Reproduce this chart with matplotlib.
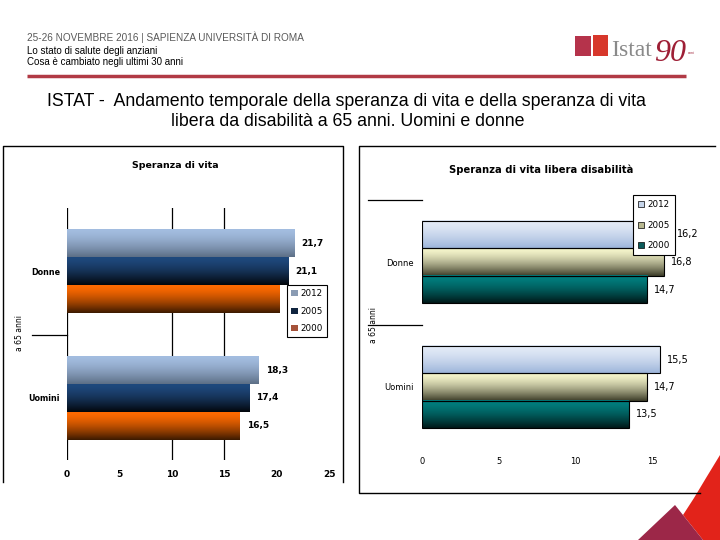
import numpy as np
import matplotlib
matplotlib.use("Agg")
import matplotlib.pyplot as plt
from matplotlib.colors import to_rgb
from matplotlib.patches import Patch, Polygon, Rectangle
import matplotlib.transforms as mtransforms

W, H = 720, 540

groups = ["Donne", "Uomini"]
years = ["2012", "2005", "2000"]

# speranza di vita a 65 anni
sv_2012 = [21.7, 18.3]
sv_2005 = [21.1, 17.4]
sv_2000 = [20.3, 16.5]
sv_labels = [["21,7", "18,3"], ["21,1", "17,4"], ["20,3", "16,5"]]

# speranza di vita libera da disabilita a 65 anni
svl_2012 = [16.2, 15.5]
svl_2005 = [15.8, 14.7]
svl_2000 = [14.7, 13.5]
svl_labels = [["16,2", "15,5"], ["16,8", "14,7"], ["14,7", "13,5"]]

left_ticks = [0, 5, 10, 15, 20, 25]
left_grid = [0, 10, 15]
right_ticks = [0, 5, 10, 15]

# (top colour, bottom colour) of the bar gradients
left_colors = [("#a3bde0", "#5d6f86"), ("#1f497d", "#02060c"), ("#ff6a00", "#3c1a00")]
left_legend = ["#8a9bb3", "#0f243e", "#a5523a"]
right_colors = [("#e3ebf7", "#9db5da"), ("#f6f6cc", "#3c3c28"), ("#008080", "#001818")]
right_legend = ["#c6d5ea", "#b8b890", "#0a5a5a"]

CHART_FONT = "DejaVu Sans"


def px_rect(x0, y0, x1, y1):
    return [x0 / W, 1 - y1 / H, (x1 - x0) / W, (y1 - y0) / H]


def gradient_bar(ax, y, value, h, top, bottom, z=2):
    t = np.linspace(0, 1, 64)[:, None] ** 1.5
    c0 = np.array(to_rgb(top))
    c1 = np.array(to_rgb(bottom))
    img = (c0 * (1 - t) + c1 * t)[:, None, :]
    ax.imshow(img, extent=(0, value, y + h / 2, y - h / 2), aspect="auto",
              interpolation="bilinear", zorder=z)


def draw_chart(ax, series, labels, colors, h, edged, label_kw):
    for i, vals in enumerate(series):
        for j, v in enumerate(vals):
            y = j + (i - 1) * h
            gradient_bar(ax, y, v, h, *colors[i])
            if edged:
                ax.barh(y, v, height=h, facecolor="none", edgecolor="black",
                        linewidth=0.8, zorder=3)
            ax.annotate(labels[i][j], (v, y), xytext=(5, 0), textcoords="offset points",
                        va="center", ha="left", family=CHART_FONT, zorder=4, **label_kw)
    for s in ax.spines.values():
        s.set_visible(False)
    ax.set_facecolor("none")


fig = plt.figure(figsize=(7.2, 5.4), dpi=100)

# background layer in pixel coordinates
bg = fig.add_axes([0, 0, 1, 1], zorder=0)
bg.set_xlim(0, W)
bg.set_ylim(H, 0)
bg.axis("off")

bg.text(27, 37, "25-26 NOVEMBRE 2016 | SAPIENZA UNIVERSITÀ DI ROMA", fontsize=7.2,
        color="#595959", va="center", family="Liberation Sans")
bg.text(27, 51, "Lo stato di salute degli anziani", fontsize=7, color="black",
        va="center", family="Liberation Sans")
bg.text(27, 62, "Cosa è cambiato negli ultimi 30 anni", fontsize=7, color="black",
        va="center", family="Liberation Sans")
bg.plot([27, 686], [75.5, 75.5], color="#b13a45", lw=2.5, solid_capstyle="butt")

# logo
bg.add_patch(Rectangle((575, 36), 16, 20, color="#b5334b", lw=0))
bg.add_patch(Rectangle((593, 35), 15, 21, color="#d7372b", lw=0))
bg.text(611, 56, "Istat", family="Liberation Serif", fontsize=17, color="#8a8a8a", va="baseline")
bg.text(654, 61, "90", family="Liberation Serif", style="italic", fontsize=23,
        color="#9e1f36", va="baseline")
bg.text(688, 53, "anni", family="Liberation Sans", fontsize=2.5, color="#9e1f36", va="center")

bg.text(346, 101, "ISTAT -  Andamento temporale della speranza di vita e della speranza di vita",
        ha="center", va="center", fontsize=12.8, family="Liberation Sans")
bg.text(348, 122, "libera da disabilità a 65 anni. Uomini e donne",
        ha="center", va="center", fontsize=12.8, family="Liberation Sans")

# panel borders
bg.plot([2.5, 2.5, 343, 343], [482, 145.5, 145.5, 482], color="black", lw=1)
bg.plot([715, 359, 359, 700], [145.5, 145.5, 493, 493], color="black", lw=1)

# corner decoration
bg.add_patch(Polygon([(720, 455), (706, 478), (694, 498), (683, 515), (703, 540), (720, 540)],
                     closed=True, color="#e2231a", lw=0))
bg.add_patch(Polygon([(675, 505), (638, 540), (703, 540)], closed=True, color="#9c2748", lw=0))

bg.text(175, 165, "Speranza di vita", ha="center", va="center", fontsize=6.8,
        fontweight="bold", family=CHART_FONT)
bg.text(541, 170, "Speranza di vita libera disabilità", ha="center", va="center",
        fontsize=7.2, fontweight="bold", family=CHART_FONT)
bg.text(20, 333, "a 65 anni", rotation=90, ha="center", va="center", fontsize=5.5,
        family=CHART_FONT)
bg.text(373, 325, "a 65 anni", rotation=90, ha="center", va="center", fontsize=5.5,
        family=CHART_FONT)

# left chart
h_left = 0.22
ax1 = fig.add_axes(px_rect(67, 208, 329, 460), zorder=1)
draw_chart(ax1, [sv_2012, sv_2005, sv_2000], sv_labels, left_colors, h_left, False,
           dict(fontsize=6.5, fontweight="bold"))
for g in left_grid:
    ax1.axvline(g, color="black", lw=0.9, zorder=1)
ax1.set_xlim(0, 25)
ax1.set_ylim(1.49, -0.5)
ax1.set_xticks(left_ticks)
ax1.set_xticklabels([str(t) for t in left_ticks], fontsize=6.5, fontweight="bold",
                    family=CHART_FONT)
ax1.set_yticks(range(len(groups)))
ax1.set_yticklabels(groups, fontsize=5.8, fontweight="bold", family=CHART_FONT)
ax1.tick_params(axis="x", length=0, pad=7)
ax1.tick_params(axis="y", length=0, pad=5)
trans1 = mtransforms.blended_transform_factory(ax1.transAxes, ax1.transData)
ax1.plot([-0.134, 0], [0.5, 0.5], color="black", lw=0.9, transform=trans1, clip_on=False)
leg1 = ax1.legend([Patch(facecolor=c, edgecolor="none") for c in left_legend], years,
                  loc="upper left", bbox_to_anchor=(287 / W, 1 - 285 / H),
                  bbox_transform=fig.transFigure, fancybox=False, edgecolor="black",
                  framealpha=1, prop={"family": CHART_FONT, "size": 6.3},
                  handlelength=0.7, handleheight=0.7, handletextpad=0.3,
                  labelspacing=0.95, borderpad=0.5, borderaxespad=0)
leg1.get_frame().set_linewidth(0.8)

# right chart
h_right = 0.22
ax2 = fig.add_axes(px_rect(422, 199.5, 422 + 20 * 15.33, 449.5), zorder=1)
draw_chart(ax2, [svl_2012, svl_2005, svl_2000], svl_labels, right_colors, h_right, True,
           dict(fontsize=7))
ax2.set_xlim(0, 20)
ax2.set_ylim(1.5, -0.5)
ax2.set_xticks(right_ticks)
ax2.set_xticklabels([str(t) for t in right_ticks], fontsize=6, family=CHART_FONT)
ax2.set_yticks(range(len(groups)))
ax2.set_yticklabels(groups, fontsize=6, family=CHART_FONT)
ax2.tick_params(axis="x", length=0, pad=5.5)
ax2.tick_params(axis="y", length=0, pad=6)
trans2 = mtransforms.blended_transform_factory(ax2.transAxes, ax2.transData)
for yy in [-0.5, 0.5]:
    ax2.plot([-0.176, 0], [yy, yy], color="black", lw=0.9, transform=trans2, clip_on=False)
leg2 = ax2.legend([Patch(facecolor=c, edgecolor="black", linewidth=0.5) for c in right_legend],
                  years, loc="upper left", bbox_to_anchor=(633 / W, 1 - 195 / H),
                  bbox_transform=fig.transFigure, fancybox=False, edgecolor="black",
                  framealpha=1, prop={"family": CHART_FONT, "size": 6.3},
                  handlelength=0.7, handleheight=0.7, handletextpad=0.3,
                  labelspacing=1.3, borderpad=0.6, borderaxespad=0)
leg2.get_frame().set_linewidth(0.8)

fig.savefig("out.png", dpi=100)
